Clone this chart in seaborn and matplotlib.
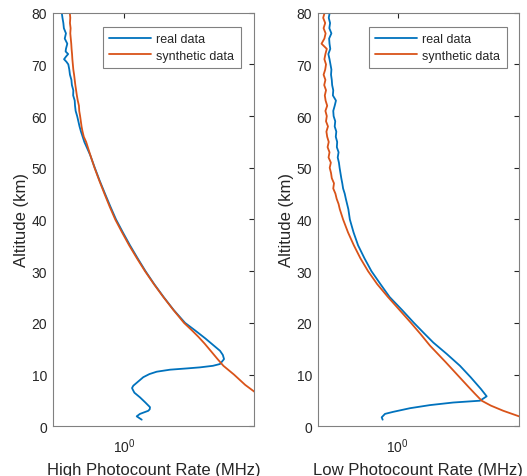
import matplotlib
matplotlib.use("Agg")
import matplotlib.pyplot as plt
import matplotlib.ticker as mticker
import pandas as pd
import seaborn as sns

# --- data (altitude in km, rate in MHz) ---
# high photocount channel, real data
alt_high_real = [1.28, 1.93, 2.4, 3.0, 3.3, 3.7, 4.6, 5.6, 6.5, 6.9, 7.4, 7.85, 9.5, 10.1, 10.56,
                 10.95, 11.2, 11.4, 11.7, 12.05, 13.0, 13.8, 14.6, 17.0, 18.5, 20.0, 22.5,
                 25.0, 27.5, 30.0, 32.5, 35.0, 37.5, 40.0, 42.5, 45.0, 47.5, 50.0, 52.5,
                 55, 56, 57, 58, 59, 60, 61, 62, 63, 64, 65, 66, 67, 68, 69, 70,
                 70.5, 71, 71.5, 72, 72.5, 73, 74, 75, 76, 77, 78, 79, 80]
rate_high_real = [1.218, 1.150, 1.194, 1.313, 1.335, 1.339, 1.270, 1.194, 1.120, 1.106, 1.090, 1.106,
                  1.240, 1.330, 1.446, 1.684, 2.050, 2.372, 2.750, 2.983, 3.123, 3.080, 2.983,
                  2.520, 2.250, 2.000, 1.755, 1.565, 1.405, 1.272, 1.162, 1.065, 0.982, 0.908,
                  0.851, 0.800, 0.753, 0.712, 0.675,
                  0.632, 0.620, 0.608, 0.598, 0.590, 0.582, 0.572, 0.568, 0.566, 0.556, 0.557, 0.548,
                  0.545, 0.536, 0.532, 0.526, 0.515, 0.501, 0.512, 0.525, 0.510, 0.512, 0.520, 0.505,
                  0.512, 0.500, 0.497, 0.492, 0.488]

# high photocount channel, synthetic data
alt_high_syn = [5.5, 6.6, 8.0, 10.0, 11.7, 13.0, 14.6, 16.0, 17.3, 18.5, 20.0, 22.5, 25.0,
                27.5, 30.0, 32.5, 35.0, 37.5, 40.0, 42.5, 45.0, 47.5, 50.0, 52.5, 55.0,
                56, 57, 58, 59, 60, 61, 62, 63, 64, 65, 66, 67, 68, 69, 70,
                71, 72, 73, 74, 75, 76, 77, 78, 79, 80]
rate_high_syn = [4.95, 4.45, 3.98, 3.50, 3.10, 2.90, 2.68, 2.50, 2.33, 2.17, 1.976, 1.750, 1.560,
                 1.400, 1.265, 1.153, 1.055, 0.973, 0.900, 0.844, 0.795, 0.750, 0.710, 0.676, 0.645,
                 0.628, 0.619, 0.612, 0.607, 0.602, 0.596, 0.594, 0.586, 0.580, 0.575, 0.570, 0.566,
                 0.562, 0.557, 0.554, 0.551, 0.549, 0.546, 0.544, 0.541, 0.538, 0.540, 0.536, 0.538, 0.535]

# low photocount channel, real data
alt_low_real = [1.28, 1.74, 2.4, 2.8, 3.5, 4.1, 4.6, 4.95, 5.8, 7.2, 9.5, 11.7, 14.0, 16.2,
                18.0, 20.0, 22.5, 25.0, 27.5, 30.0, 32.5, 35.0, 37.5, 40.0,
                42, 44, 45, 46, 47, 48, 49, 50, 51, 52, 53, 54, 55, 56, 57, 58, 59, 60,
                61, 62, 63, 64, 65, 66, 67, 68, 69, 70, 71, 72, 73, 74, 75, 76, 77, 78, 79, 80]
rate_low_real = [0.841, 0.832, 0.864, 0.950, 1.150, 1.445, 1.886, 2.561, 2.764, 2.590, 2.300, 2.037,
                 1.750, 1.501, 1.350, 1.203, 1.050, 0.911, 0.820, 0.740, 0.683, 0.635, 0.603, 0.578,
                 0.568, 0.552, 0.545, 0.535, 0.530, 0.524, 0.519, 0.514, 0.510, 0.503, 0.508, 0.498,
                 0.500, 0.492, 0.495, 0.486, 0.489, 0.480, 0.478, 0.486, 0.493, 0.476, 0.478, 0.472,
                 0.470, 0.466, 0.468, 0.463, 0.458, 0.452, 0.462, 0.458, 0.456, 0.468, 0.457, 0.461,
                 0.454, 0.459]

# low photocount channel, synthetic data
alt_low_syn = [1.5, 1.93, 3.0, 4.0, 4.95, 6.2, 7.5, 10.1, 12.4, 15.6, 17.8, 20.0, 22.5, 25.0,
               27.5, 30.0, 32.5, 35.0, 37.5, 40.0,
               42, 43, 44, 45, 46, 47, 48, 49, 50, 51, 52, 53, 54, 55, 56, 57, 58, 59, 60,
               61, 62, 63, 64, 65, 66, 67, 68, 69, 70, 71, 72, 73, 74, 75, 76, 77, 78, 79, 80]
rate_low_syn = [4.30, 4.00, 3.342, 2.900, 2.611, 2.430, 2.260, 1.961, 1.730, 1.445, 1.300, 1.163,
                1.020, 0.894, 0.790, 0.712, 0.652, 0.605, 0.566, 0.535,
                0.515, 0.508, 0.497, 0.490, 0.478, 0.482, 0.470, 0.466, 0.459, 0.465, 0.453, 0.458,
                0.448, 0.454, 0.446, 0.442, 0.450, 0.440, 0.444, 0.437, 0.446, 0.438, 0.434, 0.440,
                0.431, 0.437, 0.428, 0.436, 0.440, 0.432, 0.437, 0.444, 0.418, 0.432, 0.438, 0.428,
                0.436, 0.426, 0.433]

panels = [
    ("High Photocount Rate (MHz)", alt_high_real, rate_high_real, alt_high_syn, rate_high_syn, (0.44, 4.4)),
    ("Low Photocount Rate (MHz)", alt_low_real, rate_low_real, alt_low_syn, rate_low_syn, (0.40, 4.0)),
]

sns.set_theme(style="white")
plt.rcParams['font.family'] = ['Liberation Sans', 'DejaVu Sans']
plt.rcParams['mathtext.fontset'] = 'custom'
plt.rcParams['mathtext.rm'] = 'Liberation Sans'
plt.rcParams['mathtext.it'] = 'Liberation Sans'

BLUE = '#0072BD'
ORANGE = '#D95319'
GREY = '#262626'
EDGE = '#808080'

fig = plt.figure(figsize=(5.27, 4.77), dpi=100)
positions = [[0.100, 0.1042, 0.382, 0.8671], [0.6028, 0.1042, 0.382, 0.8671]]
legend_x = [0.934, 0.939]

for i, (xlab, a_r, r_r, a_s, r_s, xlim) in enumerate(panels):
    ax = fig.add_axes(positions[i])
    real = pd.DataFrame({'alt': a_r, 'rate': r_r})
    syn = pd.DataFrame({'alt': a_s, 'rate': r_s})
    sns.lineplot(data=real, x='rate', y='alt', sort=False, estimator=None,
                 color=BLUE, lw=1.3, label='real data', ax=ax)
    sns.lineplot(data=syn, x='rate', y='alt', sort=False, estimator=None,
                 color=ORANGE, lw=1.3, label='synthetic data', ax=ax)

    ax.set_xscale('log')
    ax.set_xlim(*xlim)
    ax.set_ylim(0, 80)
    ax.set_yticks(range(0, 81, 10))
    ax.xaxis.set_major_locator(mticker.FixedLocator([1.0]))
    ax.xaxis.set_major_formatter(mticker.LogFormatterSciNotation())
    ax.xaxis.set_minor_locator(mticker.NullLocator())
    ax.tick_params(direction='in', top=True, right=True, length=3.5, width=0.8,
                   color=GREY, labelsize=10, labelcolor=GREY, pad=4)
    ax.tick_params(axis='x', pad=7)
    for sp in ax.spines.values():
        sp.set_color(EDGE)
        sp.set_linewidth(0.8)

    ax.set_xlabel(xlab, fontsize=12, color=GREY, labelpad=5)
    ax.set_ylabel('Altitude (km)', fontsize=12, color=GREY, labelpad=2)

    leg = ax.legend(loc='upper right', bbox_to_anchor=(legend_x[i], 0.965), borderaxespad=0,
                    fontsize=9, frameon=True, fancybox=False, framealpha=1,
                    edgecolor=EDGE, handlelength=3.4, handletextpad=0.4,
                    labelspacing=0.35, borderpad=0.5)
    leg.get_frame().set_linewidth(0.8)
    for t in leg.get_texts():
        t.set_color(GREY)

fig.savefig('out.png', dpi=100)
